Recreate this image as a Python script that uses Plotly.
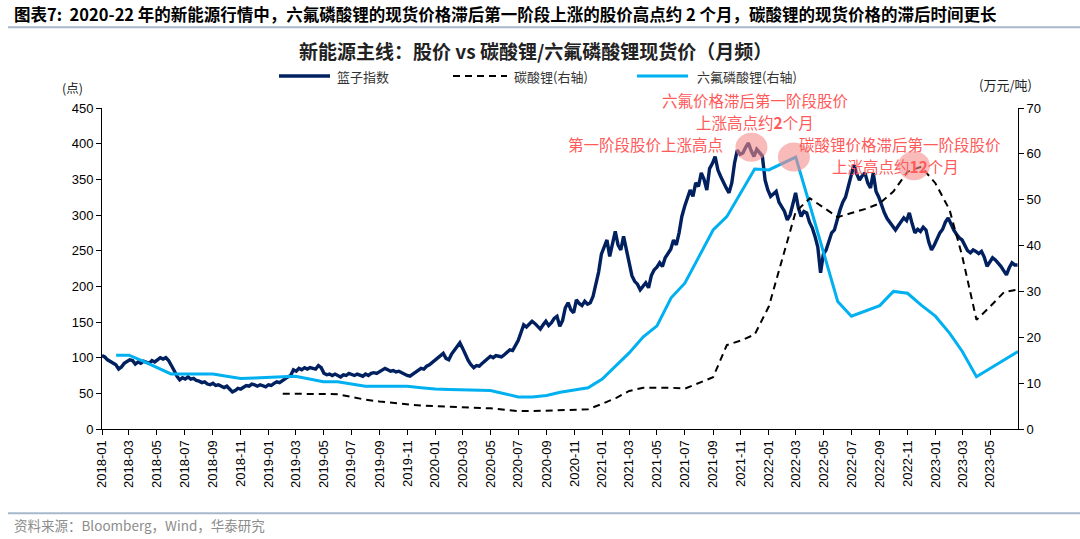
import pandas as pd
import plotly.graph_objects as go

# ---------------- data ----------------
# basket index (left axis), sampled ~every 6 days from 2018-01-01 to 2023-06-30
basket_values = [
    103, 101, 97, 95, 92,   90, 84, 87, 92, 95,   97, 96, 91, 94, 92,
    95, 93, 92, 96, 94,     97, 100, 98, 100, 96, 90, 82, 74, 69, 72,
    70, 73, 70, 71, 68,     67, 65, 66, 63, 62,   64, 61, 62, 60, 58,
    60, 56, 52, 54, 57,     56, 59, 61, 60, 63,   62, 60, 62, 61, 59,
    62, 61, 64, 66, 65,     68, 70, 73, 75, 83,   81, 85, 83, 86, 84,
    86, 85, 84, 89, 86,     78, 76, 77, 75, 77,   75, 73, 76, 75, 78,
    76, 75, 77, 76, 74,     77, 75, 78, 79, 78,   80, 82, 85, 83, 81,
    82, 80, 81, 79, 76,     75, 74, 77, 80, 82,   85, 84, 88, 90, 93,
    96, 100, 103, 106, 99,  97, 105, 110, 116, 121, 113, 104, 96, 90, 86,
    89, 88, 92, 95, 99,     102, 100, 103, 102, 101, 104, 107, 111, 110, 118,
    124, 135, 146, 143, 147, 151, 148, 144, 140, 146, 151, 145, 149, 155, 158,
    144, 152, 170, 177, 167, 163, 181, 176, 173, 179, 175, 177, 186, 205, 220,
    245, 256, 265, 242, 262, 277, 258, 251, 270, 250, 233, 215, 207, 203, 195,
    201, 205, 198, 215, 223, 227, 233, 228, 240, 247, 252, 265, 258, 275, 298,
    312, 325, 335, 326, 345, 340, 359, 350, 335, 365, 372, 382, 363, 354, 345,
    338, 331, 345, 373, 391, 385, 387, 395, 401, 390, 382, 392, 387, 383, 349,
    335, 326, 330, 333, 318, 312, 305, 293, 300, 315, 331, 310, 298, 305, 303,
    290, 282, 270, 255, 219, 245, 251, 262, 275, 279, 295, 307, 318, 325, 340,
    355, 370, 358, 349, 355, 359, 345, 338, 359, 333, 325, 312, 303, 295, 289,
    283, 279, 285, 290, 296, 292, 303, 288, 275, 280, 277, 283, 279, 262, 251,
    258, 266, 275, 280, 290, 296, 287, 279, 273, 268, 265, 257, 250, 247, 251,
    249, 246, 249, 241, 228, 235, 240, 237, 233, 228, 222, 216, 226, 233, 230,
    230,
]
basket_start, basket_end = "2018-01-01", "2023-06-30"

# lithium carbonate spot price (wan yuan/t, right axis), monthly from 2019-02
li2co3_start = "2019-02-01"
li2co3_values = [
    7.7, 7.7, 7.7, 7.7, 7.6, 7.0, 6.4, 6.0, 5.7, 5.4, 5.1,
    5.0, 4.9, 4.8, 4.7, 4.5, 4.2, 3.9, 3.9, 4.0, 4.1, 4.2, 4.3,
    5.5, 6.8, 8.3, 9.0, 9.0, 9.0, 8.8, 10.0, 11.3, 18.3, 19.3, 20.6,
    26.7, 37.6, 47.4, 50.3, 48.2, 46.2, 47.1, 48.0, 49.2, 51.8, 56.1, 57.2,
    53.6, 47.8, 37.6, 23.8, 26.7, 29.9, 30.4,
]

# LiPF6 spot price (wan yuan/t, right axis), monthly from 2018-02
lipf6_start = "2018-02-01"
lipf6_values = [
    16.1, 16.1, 14.8, 13.4, 12.0, 12.0, 12.0, 12.0, 11.5, 11.0, 11.1,
    11.3, 11.4, 11.5, 10.9, 10.3, 10.3, 9.8, 9.3, 9.3, 9.3, 9.3, 9.0,
    8.7, 8.6, 8.5, 8.5, 8.4, 7.7, 7.0, 7.0, 7.3, 8.0, 8.5, 9.0,
    10.9, 13.8, 16.6, 20.1, 22.5, 28.6, 31.8, 37.6, 43.4, 46.3, 51.5, 56.7,
    56.5, 57.9, 59.3, 48.8, 38.3, 27.8, 24.6, 25.7, 26.9, 30.0, 29.6, 27.0,
    24.6, 20.9, 16.9, 11.4, 13.2, 15.0, 16.9,
]

tick_months = pd.date_range("2018-01-01", "2023-05-01", freq="2MS")
tick_labels = [d.strftime("%Y-%m") for d in tick_months]

series_names = ["篮子指数", "碳酸锂(右轴)", "六氟磷酸锂(右轴)"]

header_text = ("图表7:  2020-22 年的新能源行情中，六氟磷酸锂的现货价格滞后第一阶段上涨的股价高点约 2 个月，"
               "碳酸锂的现货价格的滞后时间更长")
chart_title = "新能源主线：股价 vs 碳酸锂/六氟磷酸锂现货价（月频）"
source_text = "资料来源：Bloomberg，Wind，华泰研究"
note_texts = ["六氟价格滞后第一阶段股价", "上涨高点约<b>2</b>个月", "第一阶段股价上涨高点",
              "碳酸锂价格滞后第一阶段股价", "上涨高点约<b>12</b>个月"]

# ---------------- figure ----------------
basket_dates = pd.date_range(basket_start, basket_end, periods=len(basket_values))
li2co3_dates = pd.date_range(li2co3_start, periods=len(li2co3_values), freq="MS")
lipf6_dates = pd.date_range(lipf6_start, periods=len(lipf6_values), freq="MS")

CJK = "Noto Sans CJK SC"
NUM = "Liberation Sans"
NAVY, CYAN, RED = "#002060", "#00B0F0", "#FF5A5A"
styles = [dict(color=NAVY, width=3.4), dict(color="black", width=2, dash="7px,5px"),
          dict(color=CYAN, width=3)]

fig = go.Figure()
fig.add_trace(go.Scatter(x=lipf6_dates, y=lipf6_values, name=series_names[2], yaxis="y2",
                         mode="lines", line=styles[2], showlegend=False))
fig.add_trace(go.Scatter(x=li2co3_dates, y=li2co3_values, name=series_names[1], yaxis="y2",
                         mode="lines", line=styles[1], showlegend=False))
fig.add_trace(go.Scatter(x=basket_dates, y=basket_values, name=series_names[0], yaxis="y",
                         mode="lines", line=styles[0], showlegend=False))

W, H = 1080, 539
PL, PR, PT, PB = 102, 1018, 108, 429.5   # plot area in pixels
PW, PH = PR - PL, PB - PT


def px(xp):
    return (xp - PL) / PW


def py(yp):
    return (PB - yp) / PH


def ann(text, x, y, size, color, anchor="center", bold=False):
    return dict(text=("<b>%s</b>" % text) if bold else text, xref="paper", yref="paper",
                x=px(x), y=py(y), xanchor=anchor, yanchor="middle", showarrow=False,
                font=dict(family=CJK, size=size, color=color))


annotations = [
    ann(header_text, 12, 14, 16.5, "black", anchor="left", bold=True),
    ann(chart_title, 535, 50, 19, "#222222", bold=True),
    ann("(点)", 72, 87, 12.5, "#222222"),
    ann("(万元/吨)", 1005, 84, 13, "#222222"),
    ann(note_texts[0], 755, 100, 15.5, RED),
    ann(note_texts[1], 755, 122, 15.5, RED),
    ann(note_texts[2], 645, 144.5, 15.5, RED),
    ann(note_texts[3], 900, 144.5, 15.5, RED),
    ann(note_texts[4], 895, 166.5, 15.5, RED),
    ann(source_text, 12, 526, 13.5, "#8C8C8C", anchor="left"),
]

shapes = [
    dict(type="line", xref="paper", yref="paper", x0=px(8), x1=px(W), y0=py(27), y1=py(27),
         line=dict(color="#A7B8CC", width=2)),
    dict(type="line", xref="paper", yref="paper", x0=px(8), x1=px(W), y0=py(514), y1=py(514),
         line=dict(color="#A7B8CC", width=2)),
]

# legend drawn by hand (longer line samples than plotly's)
legend_x = [(279, 330, 335), (453, 507, 512), (637, 688, 695)]
for (x0, x1, xt), name, st in zip(legend_x, series_names, styles):
    shapes.append(dict(type="line", xref="paper", yref="paper", x0=px(x0), x1=px(x1),
                       y0=py(76), y1=py(76), line=st))
    annotations.append(ann(name, xt, 76, 13, "#333333", anchor="left"))

# highlight circles: centre (date, value, axis)
day_px = PW / (pd.Timestamp("2023-07-01") - pd.Timestamp("2018-01-01")).days
circles = [("2021-11-24", 395, "y", 450), ("2022-02-25", 59.3, "y2", 70), ("2022-11-15", 57.4, "y2", 70)]
pink = "rgba(245,140,140,0.6)"
for cx, cy, ax, top in circles:
    c = pd.Timestamp(cx)
    dx = pd.Timedelta(days=16 / day_px)
    dy = 14.5 * top / PH
    shapes.append(dict(type="circle", xref="x", yref=ax, x0=c - dx, x1=c + dx, y0=cy - dy, y1=cy + dy,
                       fillcolor=pink, line=dict(width=0), layer="above"))

axis_common = dict(showline=True, linecolor="black", linewidth=1, ticks="outside", ticklen=5,
                   tickcolor="black", showgrid=False, zeroline=False,
                   tickfont=dict(family=NUM, size=13, color="black"))

fig.update_layout(
    width=W, height=H,
    margin=dict(l=PL, r=W - PR, t=PT, b=H - PB, pad=0, autoexpand=False),
    paper_bgcolor="white", plot_bgcolor="white",
    showlegend=False,
    xaxis=dict(type="date", range=["2018-01-01", "2023-07-01"], tickmode="array",
               tickvals=tick_months, ticktext=tick_labels, tickangle=-90, **axis_common),
    yaxis=dict(range=[0, 450], dtick=50, **axis_common),
    yaxis2=dict(range=[0, 70], dtick=10, overlaying="y", side="right", **axis_common),
    annotations=annotations,
    shapes=shapes,
)

fig.write_html("out.html", config={"displayModeBar": False},
               post_script="document.body.style.margin='0px';document.body.style.overflow='hidden';")
